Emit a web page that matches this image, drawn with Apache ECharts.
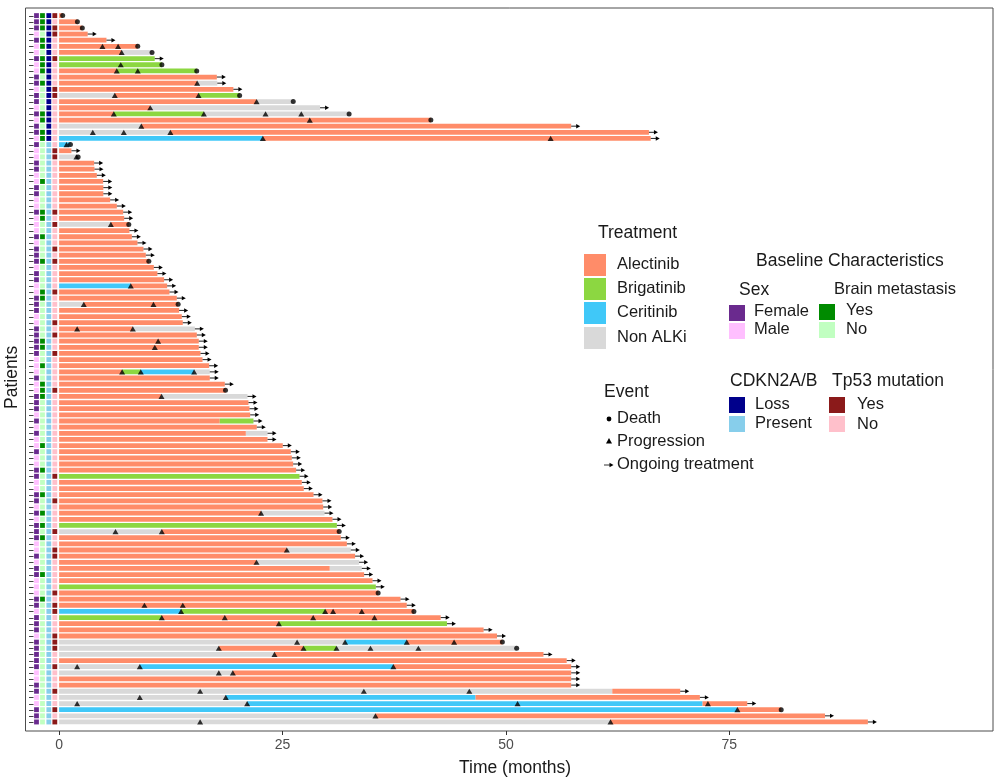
<!DOCTYPE html>
<html><head><meta charset="utf-8">
<script src="https://cdn.jsdelivr.net/npm/echarts@6/dist/echarts.min.js"></script>
<style>html,body{margin:0;padding:0;background:#fff}#c{width:1003px;height:780px}</style>
</head><body><div id="c"></div>
<script>
// ---------- DATA ----------
const drugNames = ['Alectinib','Brigatinib','Ceritinib','Non ALKi'];
const drugCodes = ['A','B','C','N'];
const drugColors = ['#FF8C69','#8CD741','#40C8F8','#D9D9D9'];
const xTicks = [0,25,50,75];

// treatment lines per patient (top to bottom): [drug, end time]; each starts where the previous ends
const timelines = [
 [['A',0.4]],[['A',2.05]],[['A',2.6]],[['A',3.2]],[['A',5.3]],
 [['A',8.8]],[['A',7.0],['N',10.4]],[['B',10.7]],[['B',11.5]],[['A',6.45],['B',15.4]],
 [['A',17.65]],[['A',15.45],['N',17.7]],[['A',19.5]],[['N',6.23],['A',15.6],['B',20.2]],[['A',22.1],['N',26.2]],
 [['A',10.2],['N',29.2]],[['A',6.12],['B',16.2],['N',32.45]],[['A',41.6]],[['N',9.2],['A',57.3]],[['N',12.45],['A',66.0]],
 [['C',22.8],['A',66.2]],[['C',1.27]],[['A',1.38]],[['N',2.13]],[['A',3.92]],
 [['A',3.96]],[['A',4.22]],[['A',4.93]],[['A',4.95]],[['A',4.95]],
 [['A',5.71]],[['A',6.46]],[['A',7.17]],[['A',7.28]],[['N',5.79],['A',7.8]],
 [['A',7.87]],[['A',8.14]],[['A',8.77]],[['A',9.44]],[['A',9.7]],
 [['A',10.04]],[['A',10.6]],[['A',11.0]],[['A',11.75]],[['C',8.02],['A',12.09]],
 [['A',12.35]],[['A',13.17]],[['N',2.76],['A',13.32]],[['A',13.43]],[['A',13.73]],
 [['A',13.84]],[['A',8.25],['N',15.19]],[['A',15.41]],[['A',15.63]],[['A',15.63]],
 [['A',15.82]],[['A',16.05]],[['A',16.79]],[['A',7.05],['B',9.14],['C',15.11],['N',16.86]],[['A',16.86]],
 [['A',18.54]],[['A',18.62]],[['A',11.46],['N',21.08]],[['A',21.19]],[['A',21.3]],
 [['A',21.38]],[['A',17.98],['B',21.75]],[['A',22.12]],[['A',20.9],['N',23.32]],[['A',23.32]],
 [['A',25.03]],[['A',25.93]],[['A',26.04]],[['A',26.19]],[['A',26.52]],
 [['B',26.9]],[['A',27.16]],[['A',27.38]],[['A',28.47]],[['A',29.47]],
 [['A',29.55]],[['A',22.6],['N',29.7]],[['A',30.59]],[['B',31.08]],[['N',11.49],['A',31.34]],
 [['A',31.52]],[['A',32.2]],[['A',25.48],['N',32.64]],[['A',33.12]],[['A',22.09],['N',33.57]],
 [['A',30.29],['N',33.87]],[['A',34.13]],[['A',35.07]],[['B',35.44]],[['A',35.7]],
 [['A',38.2]],[['A',38.9]],[['C',13.65],['B',29.77],['A',39.7]],[['B',11.49],['A',42.7]],[['A',24.59],['B',43.4]],
 [['A',47.5]],[['A',49.0]],[['N',32.0],['C',38.9],['A',49.6]],[['N',17.87],['A',27.35],['B',31.04],['N',51.2]],[['N',24.1],['A',54.2]],
 [['A',56.8]],[['N',9.03],['C',37.4],['A',57.3]],[['N',19.44],['A',57.3]],[['A',57.3]],[['A',57.3]],
 [['N',61.9],['A',69.5]],[['N',18.65],['C',46.6],['A',71.7]],[['N',21.04],['C',72.0],['A',77.0]],[['C',75.9],['A',80.8]],[['N',35.4],['A',85.7]],
 [['N',61.7],['A',90.5]]
];
// progression times per patient
const progressions = [
 [],[],[],[],[],[4.85,6.6],[7.0],[],[6.9],[6.45,8.8],
 [],[15.45],[],[6.23,15.6],[22.1],[10.2],[6.12,16.2,23.1,27.1],[28.05],[9.2],[3.77,7.24,12.45],
 [22.8,55.0],[0.83],[],[1.94],[],[],[],[],[],[],
 [],[],[],[],[5.79],[],[],[],[],[],
 [],[],[],[],[8.02],[],[],[2.76,10.56],[],[],
 [],[2.02,8.25],[],[11.08],[10.71],[],[],[],[7.05,9.14,15.11],[],
 [],[],[11.46],[],[],[],[],[],[],[],
 [],[],[],[],[],[],[],[],[],[],
 [],[22.6],[],[],[6.31,11.49],[],[],[25.48],[],[22.09],
 [],[],[],[],[],[],[9.55,13.84],[13.65,29.77,30.66,33.87],[11.49,18.54,28.43,35.29],[24.59],
 [],[],[26.63,32.0,38.9,44.2],[17.87,27.35,31.04,34.84,40.2],[24.1],[],[2.02,9.03,37.4],[17.87,19.44],[],[],
 [15.78,34.1,45.9],[9.03,18.65],[2.02,21.04,51.3,72.6],[75.9],[35.4],[15.78,61.7]
];
// event at end of last line: D = death, O = ongoing treatment
const endEvent = ('DDDOODDODD'+'OOODDODDOO'+'ODODOOOOOO'+'OOOODOOOOO'+'DOOOOOODOO'+
 'OOOOOOOOOO'+'ODOOOOOOOO'+'OOOOOOOOOO'+'OOOODOOOOO'+'OOOODOODOO'+
 'OODDOOOOOO'+'OOODOO').split('');
// baseline characteristics (F female / M male; Y yes / N no; L loss / P present)
const sex = ('FFFMFMMFMM'+'FFMFFMFMFF'+'MFMMFFMMFF'+'MMFMMMFMFF'+'FMFFMMFFFM'+
 'MFFFFFMMMF'+'MMFFFMFMFM'+'MFMMFFMMFF'+'MFMFFFMMFM'+'FFMMMFFMFF'+
 'FMFFFFFMMF'+'FMMFFF').split('');
const brainMet = ('YYYNYYNYYY'+'NYNNNNYYNY'+'YNNNNNNYNN'+'NNYYNNYNNN'+'YNNNNYYNNN'+
 'NNNYYNNYNN'+'YYYNNNNNNN'+'YNNNYNNNYN'+'NYNYNYNNNN'+'NYNNNYNNNN'+
 'NNNNNNNNNN'+'NNNNNN').split('');
const cdkn2ab = ('LLLLLLLLLL'+'LLLLLLLLLL'+'LPPPPPPPPP'+'PPPPPPPPPP'+'PPPPPPPPPP'+
 'PPPPPPPPPP'+'PPPPPPPPPP'+'PPPPPPPPPP'+'PPPPPPPPPP'+'PPPPPPPPPP'+
 'PPPPPPPPPP'+'PPPPPP').split('');
const tp53 = ('YNYYNNNYNN'+'NNYYNNNNNN'+'NNYYNNNNNN'+'NNYNYNNNYN'+'YNNNNYNNNN'+
 'YNYNNYNNNN'+'NYNNNNNNNN'+'NNNNNYNNNY'+'NNNNYNNYYN'+'NNNNYNYYNN'+
 'NYYYNNYNNN'+'YNNYNY').split('');

// ---------- BUILD ----------
const nRows = timelines.length;
const segData = [];
timelines.forEach((tl, r) => {
  let s = 0;
  tl.forEach(([d, e]) => { segData.push([s, e, r, drugCodes.indexOf(d)]); s = e; });
});
const lastEnd = timelines.map(tl => tl[tl.length-1][1]);
const deathData = [], ongoingData = [], progData = [];
endEvent.forEach((ev, r) => {
  if (ev === 'D') deathData.push([lastEnd[r], r]);
  if (ev === 'O') ongoingData.push([lastEnd[r], r]);
});
progressions.forEach((ps, r) => ps.forEach(p => progData.push([p, r])));

const baseCols = [-2.53, -1.86, -1.15, -0.48];
const tileColors = {
  sex: {F:'#6A2A8E', M:'#FFBFFF'},
  brain: {Y:'#008B00', N:'#C1FFC1'},
  cdkn: {L:'#00008B', P:'#87CEEB'},
  tp53: {Y:'#8B1A1A', N:'#FFC0CB'}
};
const tileData = [];
for (let r = 0; r < nRows; r++) {
  tileData.push([0, r, tileColors.sex[sex[r]]]);
  tileData.push([1, r, tileColors.brain[brainMet[r]]]);
  tileData.push([2, r, tileColors.cdkn[cdkn2ab[r]]]);
  tileData.push([3, r, tileColors.tp53[tp53[r]]]);
}
const rowIdx = Array.from({length:nRows}, (_, i) => [i]);

const FONT = '"Liberation Sans", Arial, sans-serif';
const chart = echarts.init(document.getElementById('c'), null, {renderer:'canvas'});

const TS = 17.5, LS = 16.5;
const G = [];
function txt(x, y, s, size) {
  G.push({type:'text', left:x, top:y, style:{text:s, fill:'#1a1a1a', font:`${size||LS}px ${FONT}`}, z:100});
}
function key(x, y, w, h, c) {
  G.push({type:'rect', shape:{x:x, y:y, width:w, height:h}, style:{fill:c}, z:100});
}
// Treatment legend
txt(598, 224, 'Treatment', TS);
const tY = [254, 278, 302, 327];
drugNames.forEach((n, i) => { key(584, tY[i], 22, 22, drugColors[i]); txt(617, tY[i]+2, n); });
// Baseline
txt(756, 252, 'Baseline Characteristics', TS);
txt(739, 281, 'Sex', TS);
key(729, 305, 16, 16, tileColors.sex.F); txt(754, 303, 'Female');
key(729, 323, 16, 16, tileColors.sex.M); txt(754, 321, 'Male');
txt(834, 281, 'Brain metastasis', 16.5);
key(819, 304, 16, 16, tileColors.brain.Y); txt(846, 302, 'Yes');
key(819, 322, 16, 16, tileColors.brain.N); txt(846, 321, 'No');
txt(730, 372, 'CDKN2A/B', TS);
key(729, 397, 16, 16, tileColors.cdkn.L); txt(755, 396, 'Loss');
key(729, 416, 16, 16, tileColors.cdkn.P); txt(755, 415, 'Present');
txt(832, 372, 'Tp53 mutation', TS);
key(829, 397, 16, 16, tileColors.tp53.Y); txt(857, 396, 'Yes');
key(829, 416, 16, 16, tileColors.tp53.N); txt(857, 416, 'No');
// Event
txt(604, 383, 'Event', TS);
G.push({type:'circle', shape:{cx:609, cy:419, r:2.4}, style:{fill:'#000'}, z:100});
txt(617, 410, 'Death');
G.push({type:'polygon', shape:{points:[[609,438],[606,443.5],[612,443.5]]}, style:{fill:'#000'}, z:100});
txt(617, 433, 'Progression');
G.push({type:'line', shape:{x1:604, y1:465, x2:610, y2:465}, style:{stroke:'#333', lineWidth:1}, z:100});
G.push({type:'polygon', shape:{points:[[613.5,465],[609.5,462.8],[609.5,467.2]]}, style:{fill:'#000'}, z:100});
txt(617, 456, 'Ongoing treatment');
// axis titles
G.push({type:'text', left:459, top:759, style:{text:'Time (months)', fill:'#1a1a1a', font:`17.5px ${FONT}`}, z:100});
G.push({type:'text', x:3, y:409, rotation:Math.PI/2, style:{text:'Patients', fill:'#1a1a1a', font:`17.5px ${FONT}`}, z:100});

const option = {
  animation:false,
  grid:{left:25.5, right:10, top:8, bottom:49, show:true, borderColor:'#4D4D4D', borderWidth:1, backgroundColor:'transparent'},
  xAxis:{type:'value', min:-3.76, max:104.5, position:'bottom',
    axisLine:{show:false, onZero:false}, splitLine:{show:false},
    axisTick:{show:true, length:4, lineStyle:{color:'#333'}, customValues:xTicks},
    axisLabel:{color:'#4D4D4D', fontSize:14, fontFamily:FONT, margin:7, customValues:xTicks}},
  yAxis:{type:'value', inverse:true, min:-1.24, max:116.47, show:false},
  graphic:G,
  series:[
    {type:'custom', data:segData, renderItem:(p, api) => {
      const s = api.coord([api.value(0), api.value(2)]);
      const e = api.coord([api.value(1), api.value(2)]);
      const h = api.size([0,1])[1]*0.78;
      return {type:'rect', shape:{x:s[0], y:s[1]-h/2, width:e[0]-s[0], height:h}, style:{fill:drugColors[api.value(3)]}};
    }, z:2},
    {type:'custom', data:tileData, renderItem:(p, api) => {
      const c = api.coord([baseCols[api.value(0)], api.value(1)]);
      const h = api.size([0,1])[1]*0.8;
      const w = 4.8;
      return {type:'rect', shape:{x:c[0]-w/2, y:c[1]-h/2, width:w, height:h}, style:{fill:tileData[p.dataIndex][2]}};
    }, z:2},
    {type:'custom', data:rowIdx, renderItem:(p, api) => {
      const c = api.coord([0, api.value(0)]);
      return {type:'line', shape:{x1:29, y1:Math.round(c[1])+0.5, x2:33.5, y2:Math.round(c[1])+0.5}, style:{stroke:'#444', lineWidth:1}};
    }, z:2},
    {type:'custom', data:ongoingData, renderItem:(p, api) => {
      const c = api.coord([api.value(0), api.value(1)]);
      const x0 = c[0], y = c[1];
      return {type:'group', children:[
        {type:'line', shape:{x1:x0, y1:y, x2:x0+5.5, y2:y}, style:{stroke:'#333', lineWidth:1.1}},
        {type:'polygon', shape:{points:[[x0+9,y],[x0+5,y-2.2],[x0+5,y+2.2]]}, style:{fill:'#000'}}
      ]};
    }, z:5},
    {type:'scatter', data:progData, symbol:'triangle', symbolSize:[6,5.2], itemStyle:{color:'#000'}, z:6},
    {type:'scatter', data:deathData, symbol:'circle', symbolSize:5, itemStyle:{color:'#000'}, z:6}
  ]
};
chart.setOption(option);
</script></body></html>
